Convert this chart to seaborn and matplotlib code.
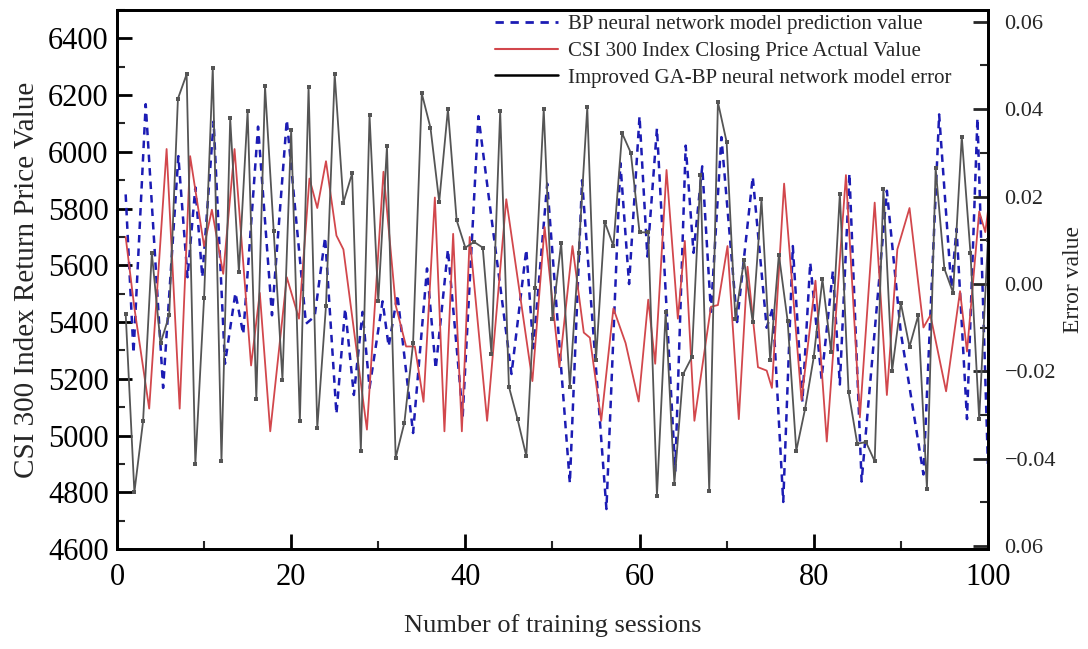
import matplotlib
matplotlib.use("Agg")
import matplotlib.pyplot as plt
import seaborn as sns
import numpy as np
from matplotlib.lines import Line2D
from matplotlib.ticker import MultipleLocator, FixedLocator, FixedFormatter

# BP neural network prediction (dashed blue)
bp_x = [1, 1.9, 3.3, 5.3, 7.05, 8.1, 9.0, 9.8, 11.1, 12.4, 13.6, 14.5, 16.2, 17.8,
        19.5, 21.7, 22.7, 23.9, 25.2, 26.2, 27.2, 28.2, 29.0, 30.5, 31.2, 32.2,
        34.0, 35.6, 36.6, 38.0, 39.7, 41.5, 45.3, 47.0, 47.8, 49.4, 52.0, 53.4,
        56.2, 57.8, 58.8, 60.0, 60.9, 62.0, 64.1, 65.3, 66.2, 67.2, 68.2, 69.4,
        71.2, 73.0, 74.6, 75.3, 76.5, 77.6, 78.7, 79.6, 80.9, 82.2, 83.0, 84.1,
        85.5, 88.4, 90.0, 92.6, 94.4, 95.8, 96.4, 97.6, 98.8, 100]
bp_val = [5850, 5290, 6168, 5168, 5985, 5558, 5875, 5558, 6107, 5253, 5503, 5357, 6089, 5424,
          6113, 5394, 5420, 5699, 5076, 5448, 5143, 5436, 5168, 5473, 5314, 5497,
          5009, 5589, 5235, 5656, 5070, 6126, 5217, 5656, 5308, 5888, 4832, 5900,
          4741, 5961, 5534, 6126, 5631, 6083, 4875, 6022, 5644, 5949, 5436, 6052,
          5400, 5912, 5380, 5450, 4766, 5668, 5119, 5610, 5200, 5580, 5180, 5924,
          4838, 5863, 5363, 4863, 6132, 5522, 5729, 5058, 6119, 4900]

# CSI 300 closing price actual value (red)
csi_x = [1, 2, 3.7, 5.7, 7.2, 8.4, 10.0, 10.9, 12.2, 13.5, 15.4, 16.4, 17.6, 19.5,
         20.9, 22.1, 23.0, 24.0, 25.2, 26.0, 28.7, 30.6, 32.0, 33.2, 34.2, 35.2,
         36.5, 37.6, 38.6, 39.6, 40.5, 42.5, 44.7, 47.7, 49.1, 50.8, 52.3, 53.6,
         54.3, 55.6, 57.0, 58.4, 59.9, 61.0, 61.8, 63.1, 64.4, 65.2, 66.3, 68.2,
         69.0, 70.1, 71.4, 72.4, 73.6, 74.6, 75.2, 76.6, 78.6, 80.2, 81.5, 83.7,
         85.3, 87.0, 88.4, 89.6, 91.0, 92.6, 93.4, 95.2, 96.8, 97.6, 99.0, 99.7, 100]
csi_val = [5700, 5450, 5095, 6010, 5095, 5985, 5668, 5796, 5570, 6010, 5247, 5503, 5015, 5558,
           5412, 5906, 5802, 5967, 5705, 5656, 5021, 5930, 5460, 5314, 5314, 5119,
           5839, 5015, 5711, 5015, 5700, 5052, 5833, 5192, 5735, 5241, 5668, 5363,
           5345, 5052, 5448, 5326, 5120, 5479, 5253, 5936, 5412, 5686, 5052, 5454,
           5460, 5668, 5058, 5595, 5241, 5229, 5168, 5888, 5125, 5546, 4979, 5918,
           5064, 5821, 5143, 5656, 5802, 5381, 5424, 5156, 5509, 5296, 5790, 5717, 5790]

# improved GA-BP model error (grey, right axis), one point per session
err_x = list(range(1, 101))
err_val = [-0.0068, -0.0477, -0.0314, 0.0071, -0.0136, -0.0072, 0.0424, 0.0480, -0.0413, -0.0033,
           0.0495, -0.0406, 0.0379, 0.0027, 0.0396, -0.0263, 0.0452, 0.0120, -0.0219, 0.0353,
           -0.0314, 0.0450, -0.0330, -0.0050, 0.0480, 0.0186, 0.0253, -0.0382, 0.0386, -0.0040,
           0.0315, -0.0398, -0.0318, -0.0136, 0.0436, 0.0357, 0.0188, 0.0400, 0.0146, 0.0083,
           0.0096, 0.0083, -0.0160, 0.0396, -0.0235, -0.0310, -0.0394, -0.0010, 0.0400, -0.0080,
           0.0094, -0.0235, 0.0070, 0.0404, -0.0175, 0.0142, 0.0087, 0.0345, 0.0300, 0.0118,
           0.0118, -0.0485, -0.0064, -0.0457, -0.0207, -0.0168, 0.0250, -0.0473, 0.0416, 0.0325,
           -0.0080, 0.0055, -0.0088, 0.0194, -0.0175, 0.0067, -0.0084, -0.0382, -0.0287, -0.0168,
           0.0011, -0.0156, 0.0206, -0.0247, -0.0366, -0.0362, -0.0406, 0.0218, -0.0199, -0.0044,
           -0.0144, -0.0072, -0.0469, 0.0265, 0.0035, -0.0020, 0.0337, 0.0070, -0.0310, 0.0100]

x_ticks = [0, 20, 40, 60, 80, 100]
left_ticks = [4600, 4800, 5000, 5200, 5400, 5600, 5800, 6000, 6200, 6400]
right_ticks = [-0.06, -0.04, -0.02, 0.00, 0.02, 0.04, 0.06]
right_labels = ["0.06", "\u22120.04", "\u22120.02", "0.00", "0.02", "0.04", "0.06"]

sns.set_style("ticks")
plt.rcParams["font.family"] = ["Liberation Serif", "DejaVu Serif"]

BLUE = "#1c1cb4"
RED = "#d2474c"
GREY = "#555555"

fig = plt.figure(figsize=(10.88, 6.49), dpi=100)
ax = fig.add_axes([0.1075, 0.154, 0.8005, 0.8306])
ax2 = ax.twinx()

sns.lineplot(x=bp_x, y=bp_val, ax=ax, color=BLUE, linewidth=1.8,
             linestyle=(0, (3.0, 2.4)), sort=False)
sns.lineplot(x=csi_x, y=csi_val, ax=ax, color=RED, linewidth=1.3, sort=False)
sns.lineplot(x=err_x, y=err_val, ax=ax2, color=GREY, linewidth=1.3,
             marker="s", markersize=2.8, markeredgewidth=0, sort=False)

ax.set_xlim(0, 100)
ax.set_ylim(4600, 6500)
ax2.set_ylim(-0.0607, 0.0627)

ax.xaxis.set_major_locator(FixedLocator(x_ticks))
ax.xaxis.set_minor_locator(MultipleLocator(10))
ax.yaxis.set_major_locator(FixedLocator(left_ticks))
ax.yaxis.set_minor_locator(MultipleLocator(100))
ax2.yaxis.set_major_locator(FixedLocator(right_ticks))
ax2.yaxis.set_major_formatter(FixedFormatter(right_labels))
ax2.yaxis.set_minor_locator(MultipleLocator(0.01))

for a in (ax, ax2):
    for s in a.spines.values():
        s.set_linewidth(2.0)
        s.set_color("black")
ax.tick_params(axis="both", which="major", direction="in", length=11, width=2,
               labelsize=22, colors="black", pad=10)
ax.tick_params(axis="both", which="minor", direction="in", length=6, width=1.5)
ax.tick_params(axis="y", which="major", pad=6)
ax2.tick_params(axis="y", which="major", direction="in", length=11, width=2,
                labelsize=16, pad=12)
ax2.tick_params(axis="y", which="minor", direction="in", length=6, width=1.5)

ax.set_xlabel("Number of training sessions", fontsize=19, labelpad=16)
ax.set_ylabel("CSI 300 Index Return Price Value", fontsize=21, labelpad=6)
ax2.set_ylabel("Error value", fontsize=17, labelpad=5)

handles = [
    Line2D([], [], color=BLUE, linewidth=2, linestyle=(0, (3.0, 2.4))),
    Line2D([], [], color=RED, linewidth=1.5),
    Line2D([], [], color="black", linewidth=1.8),
]
labels = ["BP neural network model prediction value",
          "CSI 300 Index Closing Price Actual Value",
          "Improved GA-BP neural network model error"]
ax2.legend(handles, labels, loc="upper left", bbox_to_anchor=(0.42, 1.015),
           frameon=False, fontsize=15, handlelength=3.0, handletextpad=0.5,
           labelspacing=0.35, borderaxespad=0.2)

fig.savefig("out.png", dpi=100)
